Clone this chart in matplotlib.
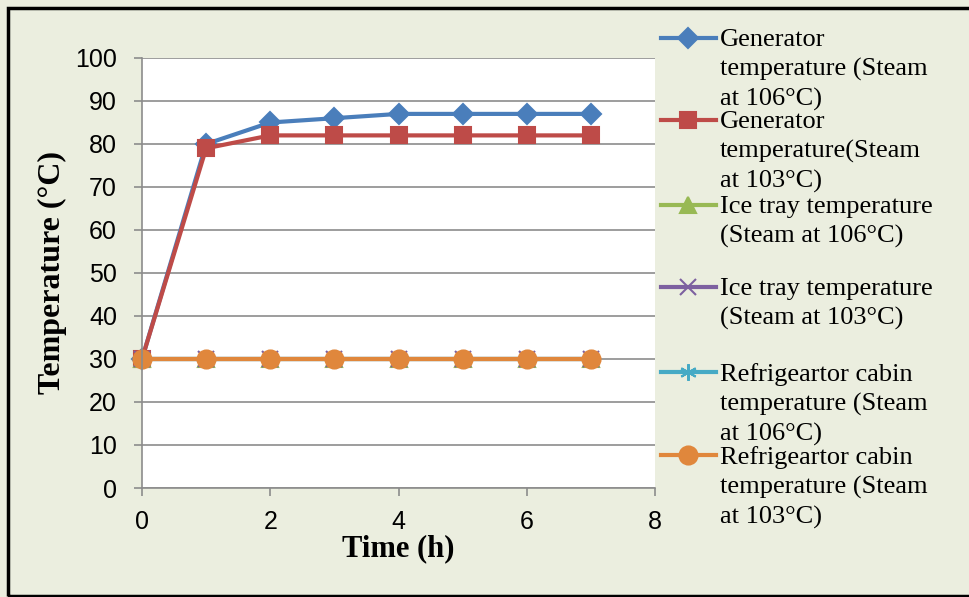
import matplotlib
matplotlib.use("Agg")
import matplotlib.pyplot as plt
from matplotlib.lines import Line2D
from matplotlib.patches import Rectangle

time_h = [0, 1, 2, 3, 4, 5, 6, 7]
gen_106 = [30, 80, 85, 86, 87, 87, 87, 87]
gen_103 = [30, 79, 82, 82, 82, 82, 82, 82]
ice_106 = [30, 30, 30, 30, 30, 30, 30, 30]
ice_103 = [30, 30, 30, 30, 30, 30, 30, 30]
cab_106 = [30, 30, 30, 30, 30, 30, 30, 30]
cab_103 = [30, 30, 30, 30, 30, 30, 30, 30]

labels = [
    "Generator\ntemperature (Steam\nat 106°C)",
    "Generator\ntemperature(Steam\nat 103°C)",
    "Ice tray temperature\n(Steam at 106°C)",
    "Ice tray temperature\n(Steam at 103°C)",
    "Refrigeartor cabin\ntemperature (Steam\nat 106°C)",
    "Refrigeartor cabin\ntemperature (Steam\nat 103°C)",
]
series = [gen_106, gen_103, ice_106, ice_103, cab_106, cab_103]
colors = ["#4A7EBB", "#BE4B48", "#98B954", "#7D60A0", "#46AAC5", "#E0873C"]
markers = ["D", "s", "^", "x", (6, 2, 0), "o"]
msizes = [10, 11, 12, 11, 12, 13]

bg = "#EBEEDF"
fig = plt.figure(figsize=(9.69, 5.97), dpi=100, facecolor=bg)
fig.patches.append(Rectangle((8/969, 1 - 596/597), 1.2, 588/597, transform=fig.transFigure,
                             fill=False, edgecolor="black", linewidth=2.5, zorder=10))

ax = fig.add_axes([142/969, 1 - 488/597, (655-142)/969, (488-58)/597])
ax.set_facecolor("white")

for ys, c, m, ms in zip(series, colors, markers, msizes):
    ax.plot(time_h, ys, color=c, linewidth=3, marker=m, markersize=ms,
            markeredgecolor=c, markerfacecolor=c, markeredgewidth=1.5, clip_on=False)

ax.set_xlim(0, 8)
ax.set_ylim(0, 100)
ax.set_xticks(range(0, 9, 2))
ax.set_yticks(range(0, 101, 10))
ax.grid(axis="y", color="#8C8C8C", linewidth=1.2)
ax.set_axisbelow(True)
for s in ["top", "right"]:
    ax.spines[s].set_visible(False)
for s in ["left", "bottom"]:
    ax.spines[s].set_color("#8C8C8C")
    ax.spines[s].set_linewidth(1.2)
ax.tick_params(axis="both", length=6, width=1.2, color="#8C8C8C", direction="out",
               labelsize=18)
ax.tick_params(axis="y", pad=12)
ax.tick_params(axis="x", pad=10)
for lab in ax.get_xticklabels() + ax.get_yticklabels():
    lab.set_fontfamily("Liberation Sans")

ax.set_xlabel("Time (h)", fontsize=22, fontweight="bold", family="Liberation Serif", labelpad=0)
ax.set_ylabel("Temperature (°C)", fontsize=23, fontweight="bold", family="Liberation Serif", labelpad=6)

# legend drawn manually
entry_y = [38, 120, 205, 287, 372, 455]
for y, c, m, ms, lab in zip(entry_y, colors, markers, msizes, labels):
    fy = 1 - y/597
    fig.add_artist(Line2D([661/969, 716/969], [fy, fy], transform=fig.transFigure,
                          color=c, linewidth=3))
    fig.add_artist(Line2D([688/969], [fy], transform=fig.transFigure, color=c,
                          marker=m, markersize=ms, markeredgecolor=c, markerfacecolor=c,
                          markeredgewidth=1.5))
    fig.text(720/969, fy + 9/597, lab, ha="left", va="top", fontsize=19,
             family="Liberation Serif", linespacing=1.39)

fig.savefig("out.png", dpi=100, facecolor=bg)
